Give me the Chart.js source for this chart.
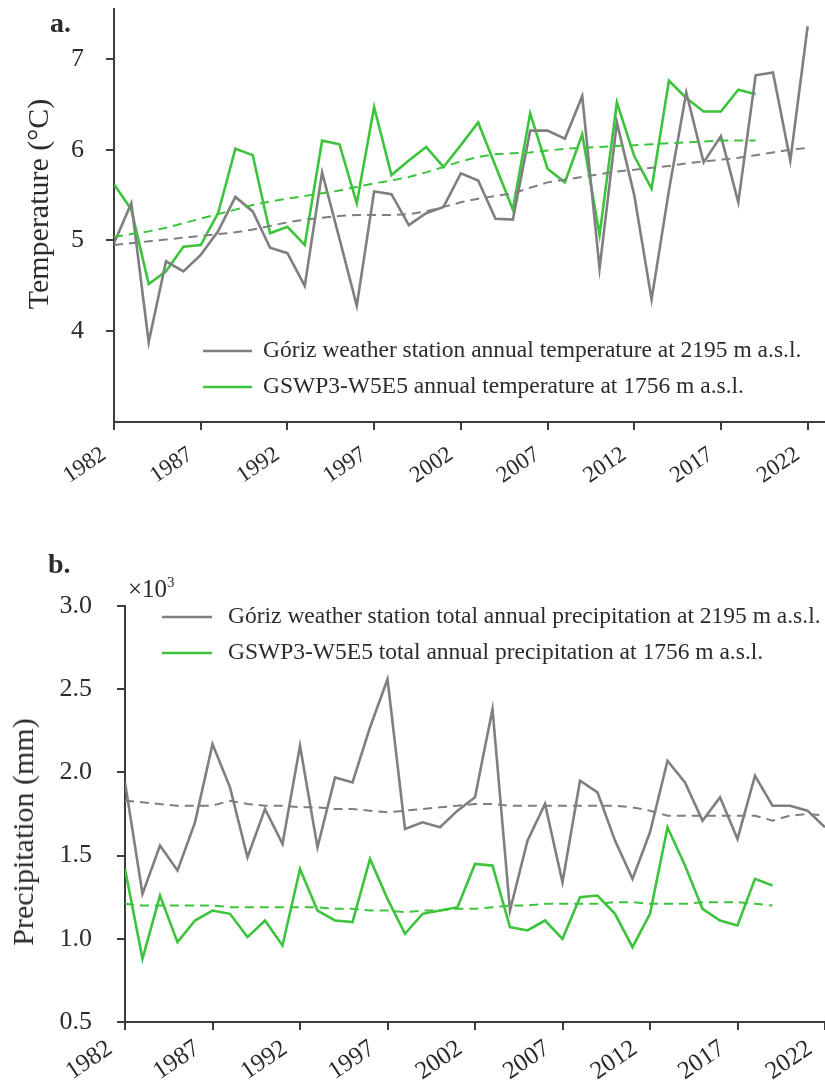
<!DOCTYPE html>
<html>
<head>
<meta charset="utf-8">
<script src="https://cdn.jsdelivr.net/npm/chart.js@4.4.0/dist/chart.umd.min.js"></script>
<style>
    html, body { margin: 0; padding: 0; background: #fff; overflow: hidden; }
    body { width: 825px; height: 1085px; position: relative; font-family: "Liberation Serif", "Times New Roman", serif; color: #2b2b2b; }
    canvas { position: absolute; left: 0; }
    #temp-chart { top: 0; }
    #precip-chart { top: 530px; }
    .panel { position: absolute; font-size: 28px; font-weight: bold; line-height: 1; }
    .ytitle { position: absolute; font-size: 30px; line-height: 1; white-space: nowrap; transform: translate(-50%, -50%) rotate(-90deg); }
    .mult { position: absolute; font-size: 25px; line-height: 1; }
    .mult sup { font-size: 15px; vertical-align: 10px; line-height: 0; }
</style>
</head>
<body>
<canvas id="temp-chart" width="825" height="500"></canvas>
<canvas id="precip-chart" width="825" height="555"></canvas>
<div class="panel" style="left:50px; top:9px;">a.</div>
<div class="panel" style="left:48px; top:550px;">b.</div>
<div class="ytitle" style="left:38px; top:204px;">Temperature (°C)</div>
<div class="ytitle" style="left:23px; top:832px;">Precipitation (mm)</div>
<div class="mult" style="left:128px; top:576px;">×10<sup>3</sup></div>
<script>
// --- Data ---
const stationYears = [1982, 1983, 1984, 1985, 1986, 1987, 1988, 1989, 1990, 1991, 1992, 1993, 1994, 1995, 1996, 1997, 1998, 1999, 2000, 2001,
    2002, 2003, 2004, 2005, 2006, 2007, 2008, 2009, 2010, 2011, 2012, 2013, 2014, 2015, 2016, 2017, 2018, 2019, 2020, 2021, 2022];
const gswpYears = stationYears.slice(0, 38); // 1982-2019
const yearTicks = [1982, 1987, 1992, 1997, 2002, 2007, 2012, 2017, 2022];

const tempTicks = [4, 5, 6, 7];
const stationTemp = [4.97, 5.41, 3.88, 4.77, 4.66, 4.84, 5.10, 5.48, 5.32, 4.92, 4.86, 4.50, 5.75, 5.02, 4.28, 5.54, 5.51, 5.17, 5.30, 5.37,
    5.74, 5.66, 5.24, 5.23, 6.21, 6.21, 6.12, 6.59, 4.69, 6.30, 5.50, 4.35, 5.55, 6.63, 5.86, 6.15, 5.42, 6.82, 6.85, 5.88, 7.36];
const stationTempTrend = [4.95, 4.97, 4.99, 5.01, 5.03, 5.05, 5.07, 5.09, 5.12, 5.16, 5.20, 5.23, 5.25, 5.27, 5.28, 5.28, 5.28, 5.29, 5.32, 5.37,
    5.42, 5.46, 5.49, 5.52, 5.58, 5.64, 5.67, 5.70, 5.73, 5.76, 5.78, 5.80, 5.82, 5.85, 5.87, 5.89, 5.91, 5.94, 5.97, 6.00, 6.02];
const gswpTemp = [5.62, 5.34, 4.52, 4.66, 4.93, 4.95, 5.30, 6.01, 5.94, 5.08, 5.15, 4.95, 6.10, 6.06, 5.41, 6.47, 5.72, 5.88, 6.03, 5.81,
    6.05, 6.30, 5.82, 5.34, 6.40, 5.79, 5.64, 6.17, 5.06, 6.52, 5.93, 5.57, 6.76, 6.57, 6.42, 6.42, 6.66, 6.61];
const gswpTempTrend = [5.04, 5.07, 5.10, 5.14, 5.19, 5.24, 5.29, 5.34, 5.39, 5.43, 5.46, 5.49, 5.52, 5.55, 5.59, 5.63, 5.66, 5.70, 5.75, 5.81,
    5.87, 5.92, 5.95, 5.96, 5.97, 5.99, 6.01, 6.02, 6.03, 6.04, 6.05, 6.06, 6.07, 6.08, 6.09, 6.10, 6.10, 6.10];

// precipitation in mm (axis shows x10^3)
const precipTicks = [500, 1000, 1500, 2000, 2500, 3000];
const stationPrecip = [1940, 1270, 1560, 1410, 1700, 2170, 1910, 1490, 1780, 1570, 2160, 1550, 1970, 1940, 2270, 2560, 1660, 1700, 1670, 1770,
    1850, 2380, 1170, 1590, 1810, 1340, 1950, 1880, 1590, 1360, 1640, 2070, 1940, 1710, 1850, 1600, 1980, 1800, 1800, 1770, 1670];
const stationPrecipTrend = [1830, 1820, 1810, 1800, 1800, 1800, 1830, 1810, 1800, 1800, 1790, 1790, 1780, 1780, 1770, 1760, 1770, 1780, 1790, 1800,
    1810, 1810, 1800, 1800, 1800, 1800, 1800, 1800, 1800, 1790, 1770, 1740, 1740, 1740, 1740, 1740, 1740, 1710, 1740, 1750, 1740];
const gswpPrecip = [1420, 880, 1260, 980, 1110, 1170, 1150, 1010, 1110, 960, 1420, 1170, 1110, 1100, 1480, 1240, 1030, 1150, 1170, 1190,
    1450, 1440, 1070, 1050, 1110, 1000, 1250, 1260, 1150, 950, 1150, 1670, 1440, 1180, 1110, 1080, 1360, 1320];
const gswpPrecipTrend = [1210, 1200, 1200, 1200, 1200, 1200, 1190, 1190, 1190, 1190, 1190, 1190, 1180, 1180, 1170, 1170, 1160, 1170, 1170, 1180,
    1180, 1190, 1200, 1200, 1210, 1210, 1210, 1210, 1220, 1220, 1210, 1210, 1210, 1220, 1220, 1220, 1210, 1200];

const GRAY = '#7f7f7f';
const GREEN = '#3cc43c';
const AXIS = '#3d3d3d';
const TEXT = '#2b2b2b';
const FONT = 'Liberation Serif';

const toPoints = (xs, ys) => ys.map((y, i) => ({ x: xs[i], y }));

const solid = (label, xs, ys, color) => ({
    label, data: toPoints(xs, ys), borderColor: color, borderWidth: 2.6,
    pointRadius: 0, tension: 0, fill: false
});
const dashed = (xs, ys, color) => ({
    label: '', data: toPoints(xs, ys), borderColor: color, borderWidth: 2,
    borderDash: [9, 6], pointRadius: 0, tension: 0, fill: false, trend: true
});

// legend drawn inside the plot area
const insideLegend = {
    id: 'insideLegend',
    afterDraw(chart, args, opts) {
        const ctx = chart.ctx;
        ctx.save();
        ctx.font = `${opts.size}px "${FONT}"`;
        ctx.textBaseline = 'middle';
        chart.data.datasets.filter(ds => !ds.trend).forEach((ds, i) => {
            const y = opts.y + i * opts.rowHeight;
            ctx.strokeStyle = ds.borderColor;
            ctx.lineWidth = ds.borderWidth;
            ctx.beginPath();
            ctx.moveTo(opts.x, y);
            ctx.lineTo(opts.x + opts.lineLength, y);
            ctx.stroke();
            ctx.fillStyle = TEXT;
            ctx.fillText(ds.label, opts.x + opts.lineLength + opts.gap, y);
        });
        ctx.restore();
    }
};

const xAxis = (max, height, size, pad, offset) => ({
    type: 'linear', min: 1982, max,
    afterBuildTicks: axis => { axis.ticks = yearTicks.map(v => ({ value: v })); },
    afterFit: axis => { axis.height = height; axis.paddingLeft = 0; axis.paddingRight = 0; },
    ticks: {
        autoSkip: false, maxRotation: 34, minRotation: 34, padding: pad, labelOffset: offset,
        color: TEXT, font: { family: FONT, size }, callback: v => String(v)
    },
    grid: { drawOnChartArea: false, drawTicks: true, tickLength: 8, color: AXIS, lineWidth: 2 },
    border: { color: AXIS, width: 2 }
});

const yAxis = (min, max, tickVals, width, pad, fmt) => ({
    min, max,
    afterBuildTicks: axis => { axis.ticks = tickVals.map(v => ({ value: v })); },
    afterFit: axis => { axis.width = width; axis.paddingTop = 0; axis.paddingBottom = 0; },
    ticks: { padding: pad, color: TEXT, font: { family: FONT, size: 26 }, callback: fmt },
    grid: { drawOnChartArea: false, drawTicks: true, tickLength: 8, color: AXIS, lineWidth: 2 },
    border: { color: AXIS, width: 2 }
});

const baseOptions = (scales, padTop, legend) => ({
    responsive: false,
    animation: false,
    layout: { padding: { top: padTop, left: 0, right: 0, bottom: 0 } },
    scales,
    plugins: { legend: { display: false }, tooltip: { enabled: false }, insideLegend: legend }
});

new Chart(document.getElementById('temp-chart'), {
    type: 'line',
    data: {
        datasets: [
            dashed(stationYears, stationTempTrend, GRAY),
            dashed(gswpYears, gswpTempTrend, GREEN),
            solid('Góriz weather station annual temperature at 2195 m a.s.l.', stationYears, stationTemp, GRAY),
            solid('GSWP3-W5E5 annual temperature at 1756 m a.s.l.', gswpYears, gswpTemp, GREEN)
        ]
    },
    options: baseOptions({
        x: xAxis(2023, 78, 23, 11, -10),
        y: yAxis(3, 7.55, tempTicks, 114, 22, v => String(v))
    }, 9, { x: 203, y: 351, rowHeight: 36, lineLength: 49, gap: 11, size: 23.5 }),
    plugins: [insideLegend]
});

new Chart(document.getElementById('precip-chart'), {
    type: 'line',
    data: {
        datasets: [
            dashed(stationYears, stationPrecipTrend, GRAY),
            dashed(gswpYears, gswpPrecipTrend, GREEN),
            solid('Góriz weather station total annual precipitation at 2195 m a.s.l.', stationYears, stationPrecip, GRAY),
            solid('GSWP3-W5E5 total annual precipitation at 1756 m a.s.l.', gswpYears, gswpPrecip, GREEN)
        ]
    },
    options: baseOptions({
        x: xAxis(2022, 63, 25, 4, -15),
        y: yAxis(500, 3000, precipTicks, 125, 25, v => (v / 1000).toFixed(1))
    }, 76, { x: 162, y: 87, rowHeight: 36, lineLength: 50, gap: 16, size: 23.5 }),
    plugins: [insideLegend]
});
</script>
</body>
</html>
